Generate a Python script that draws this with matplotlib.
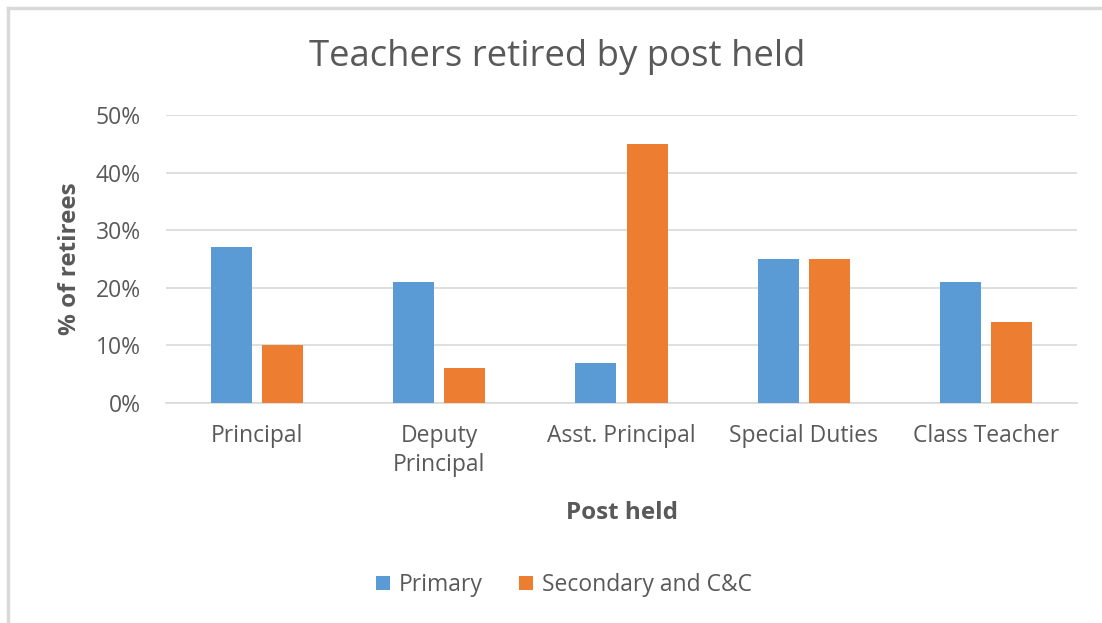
import numpy as np
import matplotlib.pyplot as plt
from matplotlib.lines import Line2D

categories = ["Principal", "Deputy\nPrincipal", "Asst. Principal", "Special Duties", "Class Teacher"]
primary = [27, 21, 7, 25, 21]
secondary = [10, 6, 45, 25, 14]
series_names = ["Primary", "Secondary and C&C"]
yticks = [0, 10, 20, 30, 40, 50]

plt.rcParams['font.family'] = ['Open Sans', 'DejaVu Sans']
txt = '#595959'

fig = plt.figure(figsize=(11.02, 6.23), dpi=100)
# chart border, only top and left visible in the cropped screenshot
fig.lines.append(Line2D([8 / 1102, 1.0], [1 - 8 / 623] * 2, transform=fig.transFigure,
                        color='#D9D9D9', linewidth=2.5))
fig.lines.append(Line2D([8 / 1102] * 2, [0, 1 - 8 / 623], transform=fig.transFigure,
                        color='#D9D9D9', linewidth=2.5))

ax = fig.add_axes([166 / 1102, 1 - 403 / 623, (1077 - 166) / 1102, (403 - 115) / 623])
x = np.arange(len(categories))
w = 0.225
gap = 0.055
ax.bar(x - (w + gap) / 2, primary, w, color='#5B9BD5', label=series_names[0], zorder=3)
ax.bar(x + (w + gap) / 2, secondary, w, color='#ED7D31', label=series_names[1], zorder=3)

ax.set_xlim(-0.5, len(categories) - 0.5)
ax.set_ylim(0, 50)
ax.set_yticks(yticks)
ax.set_yticklabels([f"{v}%" for v in yticks])
ax.set_xticks(x)
ax.set_xticklabels(categories, linespacing=1.3)
ax.tick_params(axis='both', length=0, labelsize=16.5, colors=txt)
ax.tick_params(axis='y', pad=18)
ax.tick_params(axis='x', pad=15)
ax.grid(axis='y', color='#D9D9D9', linewidth=1.2, zorder=0)
for s in ['top', 'right', 'left']:
    ax.spines[s].set_visible(False)
ax.spines['bottom'].set_color('#D9D9D9')
ax.spines['bottom'].set_linewidth(1.2)

ax.set_ylabel("% of retirees", fontsize=17.5, fontweight='bold', color=txt, labelpad=10)
ax.set_xlabel("Post held", fontsize=17.5, fontweight='bold', color=txt, labelpad=17)

fig.text(557 / 1102, 1 - 57 / 623, "Teachers retired by post held", ha='center', va='center',
         fontsize=26.3, color=txt)

fig.legend(loc='center', bbox_to_anchor=(564 / 1102, 1 - 585 / 623), ncol=2, frameon=False,
           fontsize=16.5, labelcolor=txt, handlelength=0.6, handleheight=0.6,
           handletextpad=0.4, columnspacing=1.6)

fig.savefig("out.png", dpi=100, facecolor='white')
